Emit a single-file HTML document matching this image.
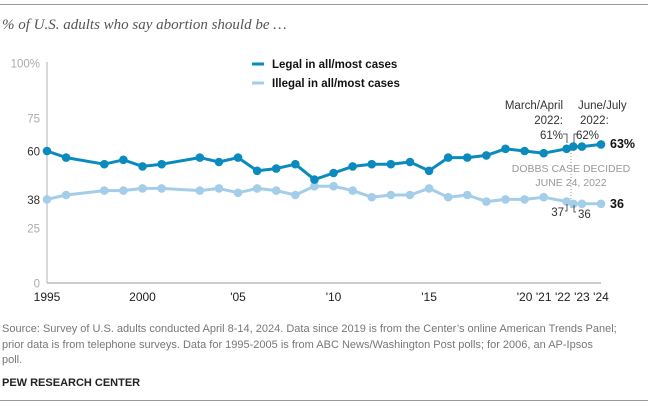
<!DOCTYPE html>
<html><head><meta charset="utf-8"><style>
body{margin:0;width:663px;height:406px;background:#fff;overflow:hidden;font-family:"Liberation Sans",sans-serif;position:relative}
.rule{position:absolute;left:0;width:648px;height:1px;background:#999}
#title{position:absolute;left:2px;top:17px;font-family:"Liberation Serif",serif;font-style:italic;font-size:15px;color:#555}
#src{position:absolute;left:2px;top:322px;width:640px;font-size:11px;line-height:15.5px;color:#777}
#pew{position:absolute;left:2px;top:377px;font-size:11px;font-weight:bold;color:#222}
svg{position:absolute;left:0;top:0}
</style></head><body>
<div class="rule" style="top:4px"></div>
<div id="title">% of U.S. adults who say abortion should be …</div>
<svg id="chart" width="663" height="320"></svg>
<div id="src">Source: Survey of U.S. adults conducted April 8-14, 2024. Data since 2019 is from the Center’s online American Trends Panel;<br>prior data is from telephone surveys. Data for 1995-2005 is from ABC News/Washington Post polls; for 2006, an AP-Ipsos<br>poll.</div>
<div id="pew">PEW RESEARCH CENTER</div>
<div class="rule" style="top:400px"></div>
<script>
const years=[1995,1996,1998,1999,2000,2001,2003,2004,2005,2006,2007,2008,2009,2010,2011,2012,2013,2014,2015,2016,2017,2018,2019,2020,2021,2022.2,2022.55,2023,2024];
const legal=[60,57,54,56,53,54,57,55,57,51,52,54,47,50,53,54,54,55,51,57,57,58,61,60,59,61,62,62,63];
const illegal=[38,40,42,42,43,43,42,43,41,43,42,40,44,44,42,39,40,40,43,39,40,37,38,38,39,37,36,36,36];
const yTicks=[0,25,38,60,75,100];
const yTickLabels=["0","25","38","60","75","100%"];
const xTicks=[1995,2000,2005,2010,2015,2020,2021,2022,2023,2024];
const xTickLabels=["1995","2000","'05","'10","'15","'20","'21","'22","'23","'24"];
const NS="http://www.w3.org/2000/svg";
const svg=document.getElementById('chart');
const x=v=>47+(v-1995)*(601-47)/(2024-1995);
const y=v=>283-v*2.2;
function mk(t,a,p){const e=document.createElementNS(NS,t);for(const k in a)e.setAttribute(k,a[k]);(p||svg).appendChild(e);return e;}
let ax=mk('line',{x1:47,y1:62,x2:47,y2:283,stroke:'#ccc','stroke-width':1.5});


let bx=mk('line',{x1:47,y1:283,x2:601,y2:283,stroke:'#bbb','stroke-width':1.5});


yTicks.forEach((v,i)=>{
 const t=mk('text',{x:40,y:y(v)+4.5,'text-anchor':'end','font-size':11.5,fill:(v==38||v==60)?'#333':'#aaa'});
 t.textContent=yTickLabels[i];
 
 
});
xTicks.forEach((v,i)=>{
 const t=mk('text',{x:x(v),y:301,'text-anchor':'middle','font-size':12,fill:'#222'});
 t.textContent=xTickLabels[i];
 
 
});
let d=mk('line',{x1:571,y1:150,x2:571,y2:208,stroke:'#999','stroke-dasharray':'1,2'});


function series(vals,color,name){
 const pts=years.map((yr,i)=>x(yr)+','+y(vals[i])).join(' ');
 const l=mk('polyline',{points:pts,fill:'none',stroke:color,'stroke-width':3,'stroke-linejoin':'round'});
 
 
 years.forEach((yr,i)=>{
  const c=mk('circle',{cx:x(yr),cy:y(vals[i]),r:4.3,fill:color});
  
  
 });
}
series(illegal,'#a3cde8','illegal');
series(legal,'#0b8bbd','legal');
function txt(s,a,name){const t=mk('text',a);t.textContent=s;return t;}
let l1=mk('line',{x1:252,y1:64,x2:264,y2:64,stroke:'#0b8bbd','stroke-width':3});


let l2=mk('line',{x1:252,y1:83,x2:264,y2:83,stroke:'#a3cde8','stroke-width':3});


txt('Legal in all/most cases',{x:272,y:68,'font-size':11.5,'font-weight':'bold',fill:'#111'},'legend-legal-label');
txt('Illegal in all/most cases',{x:272,y:87,'font-size':11.5,'font-weight':'bold',fill:'#111'},'legend-illegal-label');
txt('63%',{x:610,y:148,'font-size':12.5,'font-weight':'bold',fill:'#111'},'legal-end-label');
txt('36',{x:610,y:208,'font-size':12.5,'font-weight':'bold',fill:'#111'},'illegal-end-label');
const ann={'font-size':11.5,fill:'#333','text-anchor':'end'};
txt('March/April',{x:563,y:109,...ann},'annotation-march-april');
txt('2022:',{x:563,y:124,...ann},'annotation-2022a');
txt('61%',{x:563,y:139,...ann},'annotation-61');
const ann2={'font-size':11.5,fill:'#333'};
txt('June/July',{x:578,y:109,...ann2},'annotation-june-july');
txt('2022:',{x:580,y:124,...ann2},'annotation-2022b');
txt('62%',{x:576,y:139,...ann2},'annotation-62');
txt('37',{x:564,y:216,...ann},'annotation-37');
txt('36',{x:578,y:218,...ann2},'annotation-36');
const g={'font-size':10.5,fill:'#999','text-anchor':'middle'};
txt('DOBBS CASE DECIDED',{x:571,y:172,...g},'dobbs-annotation-line1');
txt('JUNE 24, 2022',{x:571,y:186,...g},'dobbs-annotation-line2');
[['M563,134 H567 V143'],['M578,134 H574 V143'],['M565,211 H567 V204'],['M576,212 H574 V205']].forEach(p=>{
 const e=mk('path',{d:p[0],fill:'none',stroke:'#333','stroke-width':0.8});
 
 
});
</script>
</body></html>
